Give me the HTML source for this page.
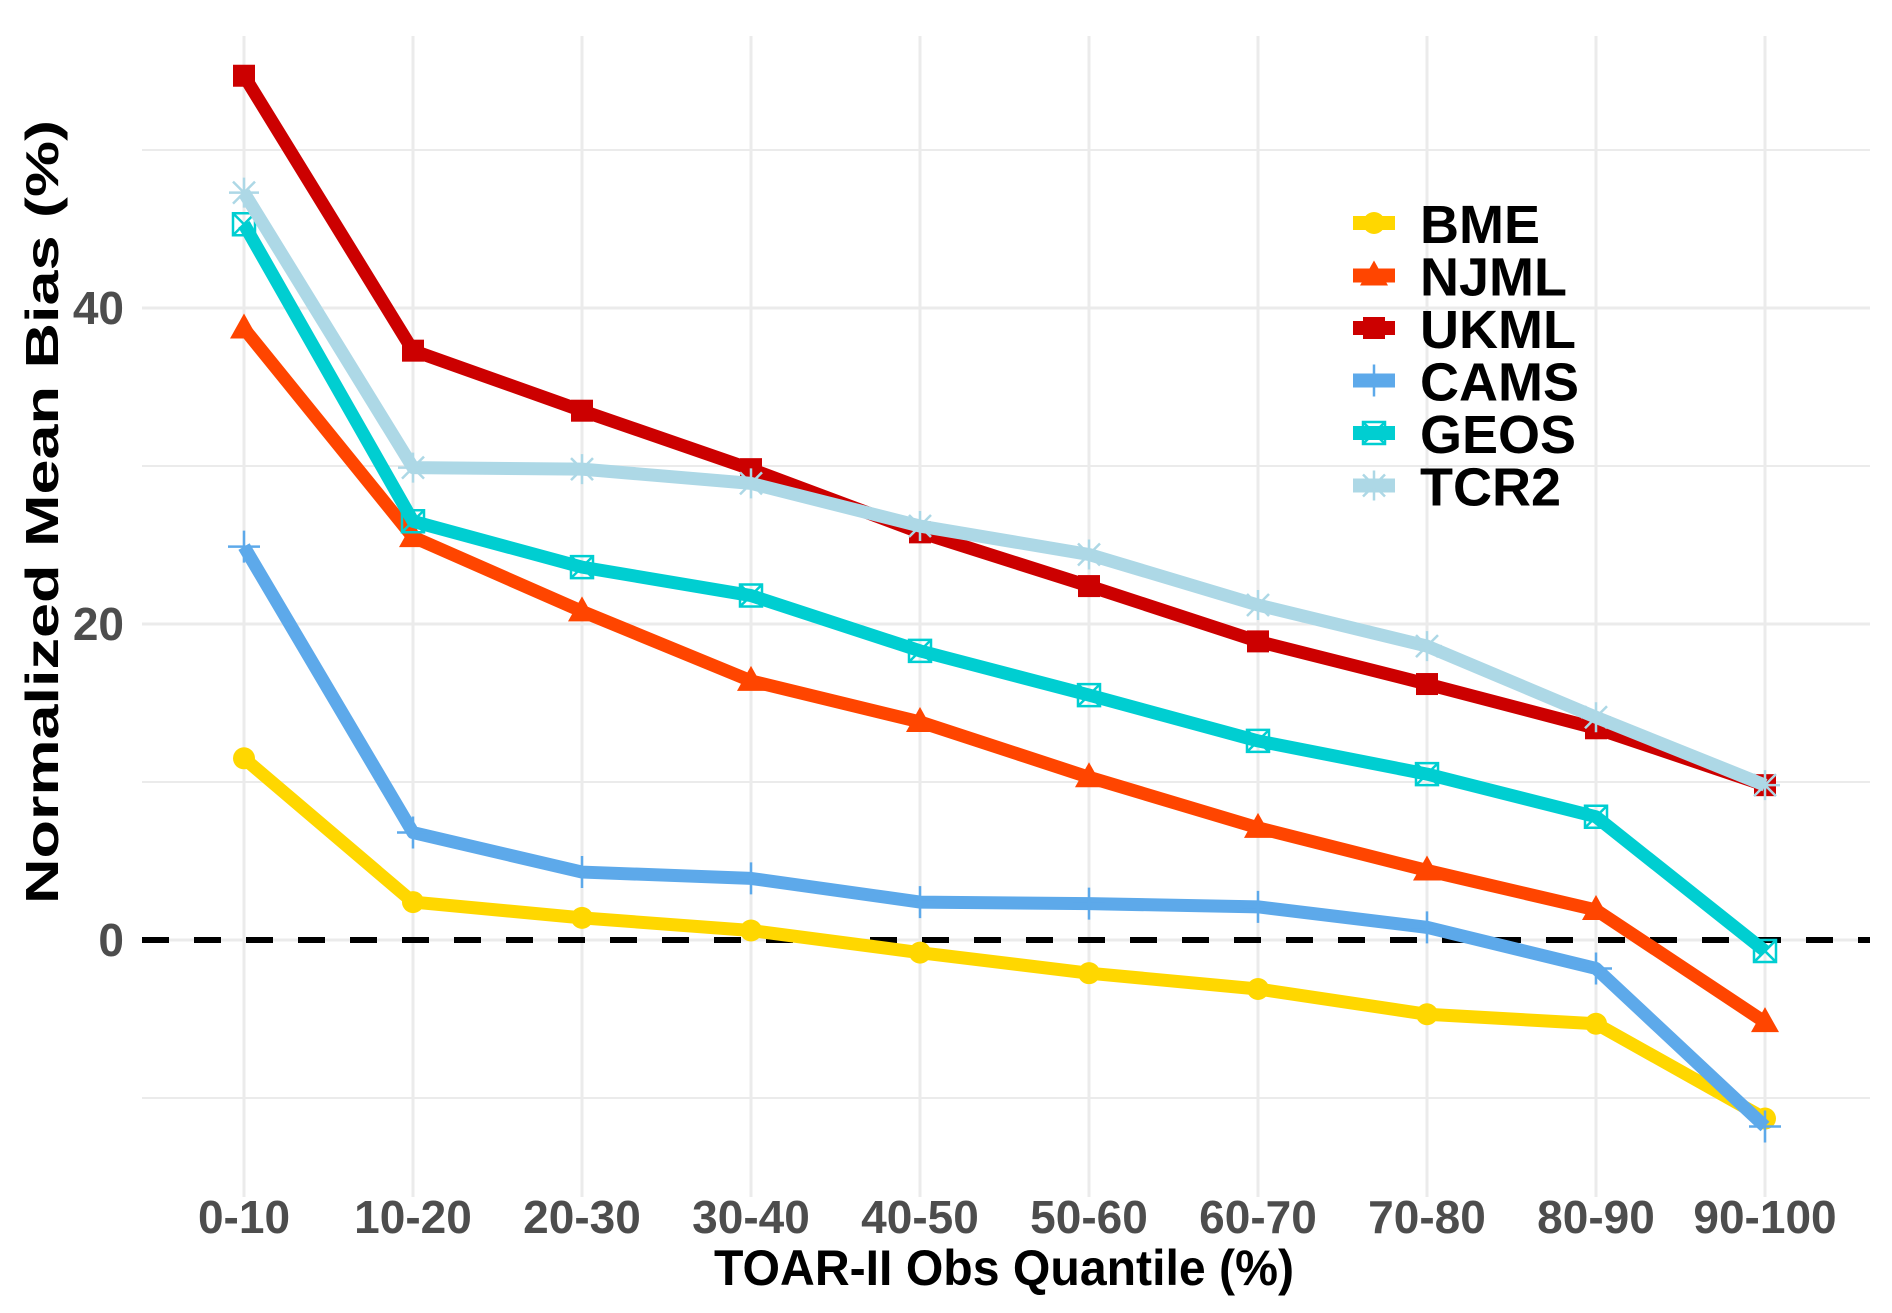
<!DOCTYPE html>
<html><head><meta charset="utf-8"><style>
html,body{margin:0;padding:0;background:#fff;}
svg{display:block;}
</style></head><body>
<svg id="chart" width="1892" height="1313" xmlns="http://www.w3.org/2000/svg">
<g id="grid"></g>
<g id="axes"></g>
<g id="series"></g>
<g id="legend"></g>
<text x="1004" y="1285" text-anchor="middle" font-family="'Liberation Sans Narrow','Liberation Sans',sans-serif" font-weight="bold" font-size="50" textLength="580" lengthAdjust="spacingAndGlyphs" fill="#000">TOAR-II Obs Quantile (%)</text>
<text transform="translate(58,512) rotate(-90)" text-anchor="middle" font-family="'Liberation Sans',sans-serif" font-weight="bold" font-size="46" textLength="784" lengthAdjust="spacingAndGlyphs" fill="#000">Normalized Mean Bias (%)</text>
</svg>
<script>
const categories = ["0-10","10-20","20-30","30-40","40-50","50-60","60-70","70-80","80-90","90-100"];
const yTicks = [0, 20, 40];
const yMinor = [-10, 10, 30, 50];
const seriesNames = ["BME","NJML","UKML","CAMS","GEOS","TCR2"];
const bme  = [11.5, 2.4, 1.4, 0.6, -0.8, -2.1, -3.1, -4.7, -5.3, -11.3];
const njml = [38.7, 25.5, 20.8, 16.4, 13.8, 10.3, 7.1, 4.4, 1.9, -5.2];
const ukml = [54.7, 37.3, 33.5, 29.8, 25.8, 22.4, 18.9, 16.2, 13.4, 9.8];
const cams = [24.9, 6.8, 4.3, 3.9, 2.4, 2.3, 2.1, 0.8, -1.8, -11.8];
const geos = [45.3, 26.5, 23.6, 21.8, 18.3, 15.5, 12.6, 10.5, 7.8, -0.7];
const tcr2 = [47.3, 29.9, 29.8, 28.9, 26.2, 24.4, 21.2, 18.6, 14.1, 9.8];

const NS = "http://www.w3.org/2000/svg";
const colors = ["#FFD700","#FF4500","#CC0000","#5DA9EA","#00CED1","#ADD8E6"];
const shapes = ["circle","triangle","square","plus","boxx","star"];
const allData = [bme, njml, ukml, cams, geos, tcr2];
const x = i => 244 + i * 169;
const y = v => 940 - v * 15.8;
const L = 142, R = 1870, T = 36, B = 1197;
function mk(tag, attrs, parent){ const e = document.createElementNS(NS, tag); for (const k in attrs) e.setAttribute(k, attrs[k]); parent.appendChild(e); return e; }
const grid = document.getElementById('grid'), axes = document.getElementById('axes'), ser = document.getElementById('series'), leg = document.getElementById('legend');

yMinor.forEach(v => { const l = mk('line', {x1:L, x2:R, y1:y(v), y2:y(v), stroke:'#ebebeb', 'stroke-width':2}, grid);
  
   });
yTicks.forEach(v => { const l = mk('line', {x1:L, x2:R, y1:y(v), y2:y(v), stroke:'#ebebeb', 'stroke-width':3}, grid);
  
  
  const t = mk('text', {x:124, y:y(v)+16, 'text-anchor':'end', 'font-family':"'Liberation Sans Narrow','Liberation Sans',sans-serif", 'font-weight':'bold', 'font-size':46, fill:'#4d4d4d'}, axes);
  t.textContent = v;
  
   });
categories.forEach((c, i) => { const l = mk('line', {x1:x(i), x2:x(i), y1:T, y2:B, stroke:'#ebebeb', 'stroke-width':3}, grid);
  
  
  const t = mk('text', {x:x(i), y:1233, 'text-anchor':'middle', 'font-family':"'Liberation Sans Narrow','Liberation Sans',sans-serif", 'font-weight':'bold', 'font-size':46, fill:'#4d4d4d'}, axes);
  t.textContent = c;
  
   });

const zl = mk('line', {x1:L, x2:R, y1:y(0), y2:y(0), stroke:'#000', 'stroke-width':6, 'stroke-dasharray':'27 25'}, axes);



function marker(shape, cx, cy, col, parent){
  let e;
  if (shape === 'circle') e = mk('circle', {cx, cy, r:11, fill:col}, parent);
  else if (shape === 'triangle') e = mk('polygon', {points:`${cx},${cy-15} ${cx-14},${cy+10} ${cx+14},${cy+10}`, fill:col}, parent);
  else if (shape === 'square') e = mk('rect', {x:cx-11, y:cy-11, width:22, height:22, fill:col}, parent);
  else if (shape === 'plus') e = mk('path', {d:`M${cx-16},${cy}H${cx+16}M${cx},${cy-16}V${cy+16}`, stroke:col, 'stroke-width':2.5, fill:'none'}, parent);
  else if (shape === 'boxx') e = mk('path', {d:`M${cx-11},${cy-11}h22v22h-22zM${cx-11},${cy-11}L${cx+11},${cy+11}M${cx+11},${cy-11}L${cx-11},${cy+11}`, stroke:col, 'stroke-width':2.5, fill:'none'}, parent);
  else e = mk('path', {d:`M${cx-15},${cy}H${cx+15}M${cx},${cy-15}V${cy+15}M${cx-11},${cy-11}L${cx+11},${cy+11}M${cx+11},${cy-11}L${cx-11},${cy+11}`, stroke:col, 'stroke-width':2.5, fill:'none'}, parent);
  return e;
}

allData.forEach((d, s) => {
  const g = mk('g', {}, ser);
  
  
  const pl = mk('polyline', {points: d.map((v, i) => x(i) + ',' + y(v)).join(' '), fill:'none', stroke:colors[s], 'stroke-width':13, 'stroke-linejoin':'round'}, g);
  
  
  d.forEach((v, i) => { const m = marker(shapes[s], x(i), y(v), colors[s], g);
    
     });
});

seriesNames.forEach((n, s) => {
  const cy = 223 + s * 52.5;
  const g = mk('g', {}, leg);
  
  
  mk('rect', {x:1353, y:cy-7, width:42, height:14, fill:colors[s]}, g);
  marker(shapes[s], 1374, cy, colors[s], g);
  const t = mk('text', {x:1420, y:cy+20, 'font-family':"'Liberation Sans',sans-serif", 'font-weight':'bold', 'font-size':54, fill:'#000'}, g);
  t.textContent = n;
  
  
});
</script>
</body></html>
